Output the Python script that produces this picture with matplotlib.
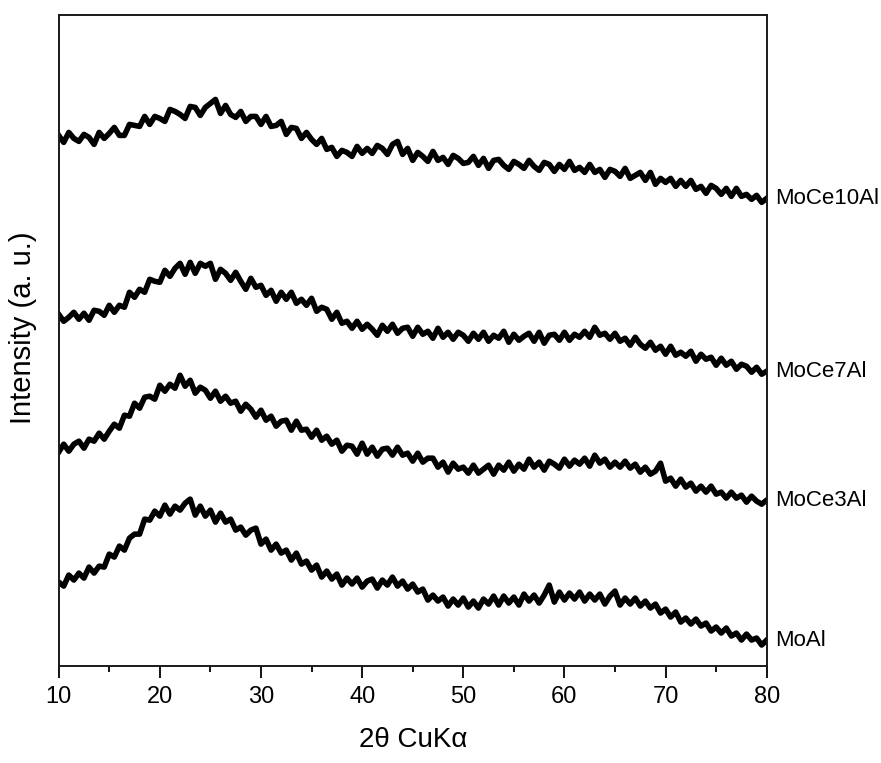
import numpy as np
import matplotlib
import matplotlib.pyplot as plt

matplotlib.use("Agg")
plt.rcParams["font.family"] = ["Liberation Sans", "DejaVu Sans"]

# 2theta grid (deg), one reading every 0.5 deg
two_theta = np.linspace(10, 80, 141)

# intensities (a.u., already stacked with offsets)
moce10al = [
    531, 524, 534, 528, 525, 532, 529, 522, 534, 528, 533, 539, 531, 531, 542, 541,
    540, 550, 542, 550, 548, 545, 557, 555, 552, 548, 560, 559, 551, 559, 563, 567,
    553, 561, 552, 549, 555, 545, 550, 550, 542, 550, 540, 541, 545, 532, 539, 538,
    528, 534, 527, 522, 528, 517, 519, 510, 516, 514, 510, 520, 513, 518, 513, 521,
    518, 512, 522, 525, 512, 518, 506, 514, 510, 505, 515, 506, 509, 502, 511, 508,
    503, 504, 510, 501, 508, 498, 506, 507, 501, 497, 505, 502, 498, 506, 500, 496,
    504, 502, 495, 502, 497, 505, 496, 499, 494, 502, 494, 497, 489, 497, 495, 490,
    498, 488, 491, 494, 486, 494, 482, 488, 484, 488, 480, 486, 480, 486, 477, 480,
    473, 481, 478, 472, 478, 470, 478, 470, 472, 467, 471, 464, 468,
]
moce7al = [
    352, 345, 349, 354, 347, 353, 346, 356, 355, 351, 361, 354, 361, 359, 374, 369,
    377, 374, 387, 385, 384, 396, 390, 398, 403, 392, 404, 393, 403, 400, 403, 387,
    397, 393, 386, 394, 385, 377, 388, 379, 381, 371, 376, 365, 374, 367, 374, 363,
    367, 361, 368, 355, 359, 357, 347, 354, 343, 345, 338, 345, 337, 342, 337, 331,
    341, 335, 342, 333, 338, 339, 330, 339, 332, 335, 328, 338, 329, 334, 327, 334,
    331, 325, 333, 327, 334, 325, 331, 328, 335, 324, 332, 326, 330, 333, 325, 334,
    323, 331, 332, 326, 334, 326, 332, 329, 335, 329, 339, 331, 333, 327, 333, 325,
    328, 321, 329, 322, 318, 324, 316, 320, 312, 320, 311, 314, 310, 315, 305, 312,
    307, 309, 301, 308, 301, 305, 297, 302, 300, 294, 299, 292, 295,
]
moce3al = [
    214, 222, 215, 222, 225, 218, 227, 225, 233, 227, 235, 242, 238, 251, 250, 263,
    258, 269, 270, 267, 281, 275, 282, 278, 291, 280, 286, 273, 279, 276, 268, 275,
    265, 270, 263, 265, 255, 262, 257, 249, 256, 246, 250, 240, 245, 246, 236, 245,
    236, 237, 229, 236, 226, 230, 222, 226, 215, 221, 220, 212, 223, 212, 219, 210,
    217, 218, 211, 219, 211, 213, 205, 213, 204, 208, 208, 199, 204, 194, 203, 197,
    199, 193, 201, 193, 197, 201, 192, 201, 196, 204, 195, 202, 197, 207, 199, 204,
    196, 205, 202, 198, 207, 200, 206, 202, 208, 200, 211, 203, 207, 199, 204, 199,
    205, 198, 202, 194, 199, 192, 195, 203, 185, 188, 180, 187, 179, 183, 175, 180,
    174, 180, 172, 174, 168, 174, 168, 171, 164, 170, 165, 162, 166,
]
moal = [
    84, 80, 91, 86, 93, 88, 99, 93, 100, 99, 112, 109, 120, 116, 128, 132,
    132, 147, 146, 155, 150, 161, 152, 160, 156, 163, 167, 151, 160, 150, 156, 144,
    153, 144, 147, 136, 139, 131, 136, 138, 122, 127, 116, 122, 113, 116, 106, 113,
    102, 105, 96, 101, 89, 95, 87, 92, 81, 88, 82, 88, 79, 85, 87, 78,
    86, 81, 89, 80, 85, 77, 82, 74, 77, 66, 71, 65, 69, 60, 67, 61,
    68, 59, 65, 58, 67, 62, 70, 61, 70, 63, 69, 61, 72, 65, 71, 63,
    71, 81, 64, 74, 66, 73, 67, 74, 65, 72, 66, 72, 62, 70, 75, 61,
    68, 62, 68, 60, 65, 58, 62, 53, 57, 49, 54, 44, 48, 42, 47, 40,
    43, 35, 39, 33, 38, 30, 33, 26, 32, 26, 28, 21, 26,
]

samples = ["MoCe10Al", "MoCe7Al", "MoCe3Al", "MoAl"]
series = [moce10al, moce7al, moce3al, moal]

fig = plt.figure(figsize=(8.81, 7.63), dpi=100)
ax = fig.add_axes([0.0666, 0.1271, 0.8037, 0.8526])

for name, y in zip(samples, series):
    ax.plot(two_theta, y, color="black", linewidth=4.0)
    ax.annotate(name, xy=(two_theta[-1], y[-1]), xytext=(6, 0),
                textcoords="offset points", ha="left", va="center",
                fontsize=16, annotation_clip=False)

ax.set_xlim(10, 80)
ax.set_ylim(0, 651)
ax.set_xticks(np.arange(10, 81, 10))
ax.set_xticks(np.arange(15, 80, 10), minor=True)
ax.set_yticks([])
ax.tick_params(axis="x", which="major", direction="out", length=8.5, width=1.3,
               labelsize=17, pad=6)
ax.tick_params(axis="x", which="minor", direction="out", length=4.5, width=1.3)
for sp in ax.spines.values():
    sp.set_linewidth(1.4)
    sp.set_color("#1a1a1a")

ax.set_xlabel("2θ CuKα", fontsize=20)
ax.xaxis.set_label_coords(0.5, -0.094)
ax.set_ylabel("Intensity (a. u.)", fontsize=21)
ax.yaxis.set_label_coords(-0.03, 0.52)

fig.savefig("out.png", dpi=100)
plt.close(fig)
